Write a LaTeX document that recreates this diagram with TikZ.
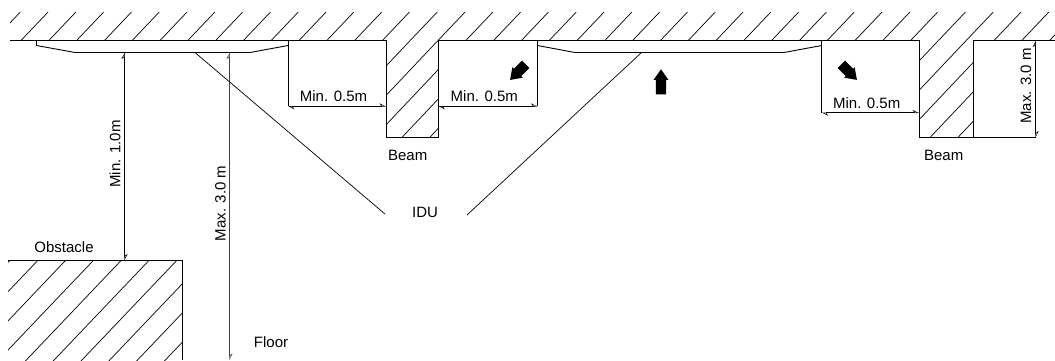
\documentclass[tikz,border=0pt]{standalone}
\usepackage{fontspec}
\setmainfont{Liberation Sans}
\usetikzlibrary{shapes,arrows,positioning,calc,arrows.meta}

\tikzset{
    wall/.style={line width=0.9pt},
    hatchline/.style={line width=0.7pt},
    dimline/.style={line width=0.7pt,{Stealth[open,harpoon,length=6pt,width=6pt,line width=0.5pt]}-{Stealth[open,harpoon,length=6pt,width=6pt,line width=0.5pt]}},
    lbl/.style={font=\fontsize{15}{18}\selectfont,inner sep=0pt},
    airflow/.style={single arrow,fill=black,inner sep=0pt,text height=10pt,text depth=0pt,text width=0pt,minimum height=25pt,single arrow head extend=2.2pt,single arrow head indent=0pt,single arrow tip angle=70}
}

\begin{document}
\begin{tikzpicture}[x=1pt,y=-1pt]
    \useasboundingbox (0,0) rectangle (1055,360);

    % Hatching of ceiling
    \begin{scope}
        \clip (10,12) rectangle (1055,40.5);
        \foreach \k in {-1,...,37}
            \draw[hatchline] ({21+27.8*\k},40.5) -- ++(27,-28.4);
    \end{scope}

    % Hatching of beams
    \begin{scope}
        \clip (386,40.5) rectangle (438.3,137.5);
        \foreach \k in {12,...,18}
            \draw[hatchline] ({21+27.8*\k},40.5) -- ++(-100,105.7);
    \end{scope}
    \begin{scope}
        \clip (919,40.5) rectangle (973.7,137.5);
        \foreach \k in {31,...,38}
            \draw[hatchline] ({21+27.8*\k},40.5) -- ++(-100,105.7);
    \end{scope}

    % Hatching of obstacle
    \begin{scope}
        \clip (8,260.5) rectangle (182,360);
        \foreach \k in {-1,...,8}
            \draw[hatchline] ({37.7+27.8*\k},260.5) -- ++(-100,105);
    \end{scope}

    % Ceiling and beams
    \draw[wall] (10,40.5) -- (386,40.5) -- (386,137.5) -- (438.3,137.5) -- (438.3,40.5) -- (919,40.5)
        -- (919,137.5) -- (1036,137.5);
    \draw[wall] (973.7,137.5) -- (973.7,40.5) -- (1055,40.5);

    % Obstacle
    \draw[wall] (8,260.5) -- (182,260.5) -- (182,360);

    % Indoor units
    \draw[wall] (36.5,40.5) -- (36.5,45.5) -- (75,52.5) -- (250,52.5) -- (288,45.5);
    \draw[wall] (537.5,45.5) -- (575,52.5) -- (784,52.5) -- (821.7,45.5);

    % Side lines
    \draw[hatchline] (288,40.5) -- (288,106.3);
    \draw[hatchline] (537.5,40.5) -- (537.5,106.3);
    \draw[hatchline] (821.7,40.5) -- (821.7,112.8);

    % Named points
    \coordinate (minA) at (124.5,52.5);
    \coordinate (minB) at (124.5,260.5);
    \coordinate (maxA) at (229.5,52.5);
    \coordinate (maxB) at (229.5,360);
    \coordinate (maxC) at (1035.7,40.5);
    \coordinate (maxD) at (1035.7,137.5);
    \coordinate (leftA) at (288,106.3);
    \coordinate (leftB) at (386,106.3);
    \coordinate (midA) at (438.3,106.3);
    \coordinate (midB) at (537.5,106.3);
    \coordinate (rightA) at (821.7,112.8);
    \coordinate (rightB) at (919,112.8);
    \coordinate (unitA) at (195,52.5);
    \coordinate (unitB) at (641.5,52.5);

    % Dimensions
    \draw[dimline] (minA) -- (minB);
    \draw[dimline,line width=1pt,black!75] (maxA) -- (maxB);
    \draw[dimline] (maxC) -- (maxD);
    \draw[dimline] (leftA) -- (leftB);
    \draw[dimline] (midA) -- (midB);
    \draw[dimline] (rightA) -- (rightB);

    \node[lbl,rotate=90] (minlabel) at (115,154) {Min. 1.0m};
    \node[lbl,rotate=90] (maxlabel) at (220.5,203.5) {Max. 3.0 m};
    \node[lbl,rotate=90] (maxlabelb) at (1026,86) {Max. 3.0 m};
    \node[lbl] (lefttext) at (333.5,96.5) {Min. 0.5m};
    \node[lbl] (midtext) at (484.3,96.5) {Min. 0.5m};
    \node[lbl] (righttext) at (866.7,103.5) {Min. 0.5m};
    \node[lbl] (beamA) at (407.7,155.5) {Beam};
    \node[lbl] (beamB) at (943.7,155.5) {Beam};
    \node[lbl] (obstacle) at (64,247) {Obstacle};
    \node[lbl] (floor) at (271,342) {Floor};
    \node[lbl] (idu) at (425,212) {IDU};

    % Leaders
    \draw[hatchline] (unitA) -- (385,214);
    \draw[hatchline] (unitB) -- (467,215);

    % Air flow
    \node[airflow,rotate=90] (flowup) at (661,85.5) {};
    \node[airflow,minimum height=22pt,rotate=225] (flowleft) at (520.5,69.5) {};
    \node[airflow,minimum height=22pt,rotate=-45] (flowright) at (846.5,69.5) {};
\end{tikzpicture}
\end{document}
